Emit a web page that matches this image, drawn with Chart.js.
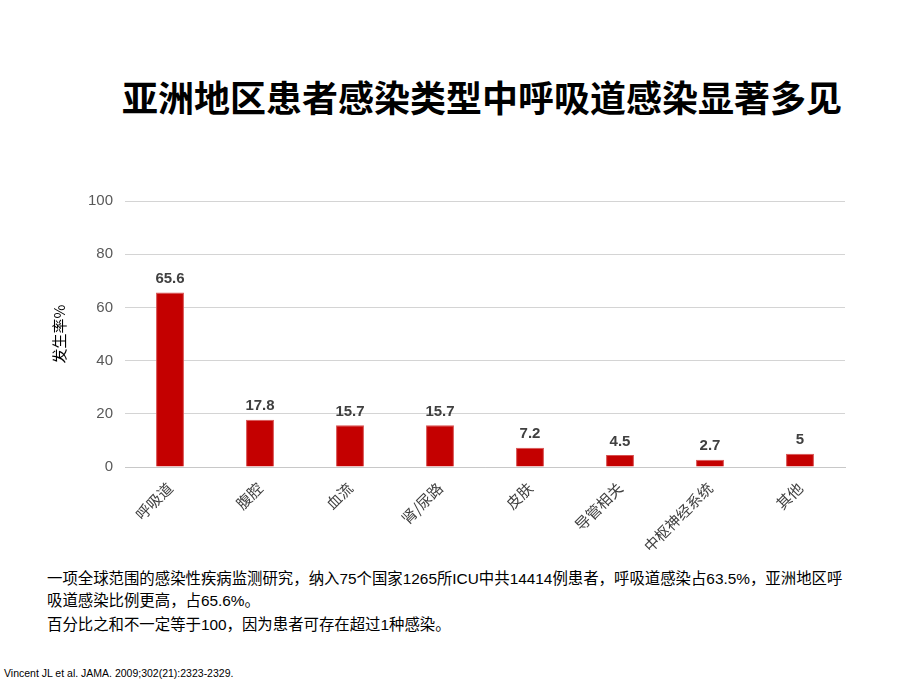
<!DOCTYPE html>
<html>
<head>
<meta charset="utf-8">
<script src="https://cdn.jsdelivr.net/npm/chart.js@4.4.1/dist/chart.umd.min.js"></script>
<style>
    body { margin: 0; width: 920px; height: 690px; background: #fff; position: relative; overflow: hidden;
           font-family: "Liberation Sans", "Noto Sans CJK SC", sans-serif; }
    #title { position: absolute; left: 122px; top: 73px; font-size: 36px; font-weight: bold; letter-spacing: 0px;
             color: #000; font-family: "Noto Sans CJK SC", sans-serif; line-height: 46px; white-space: nowrap; }
    #chart-wrap { position: absolute; left: 40px; top: 180px; width: 815px; height: 380px; }
    #notes { position: absolute; left: 47px; top: 568px; font-size: 15.4px; color: #000; line-height: 22px; white-space: nowrap; }
    #notes p { margin: 0 0 2px 0; }
    #cite { position: absolute; left: 4px; top: 667px; font-size: 10.5px; color: #000; }
</style>
</head>
<body>
<div id="title">亚洲地区患者感染类型中呼吸道感染显著多见</div>
<div id="chart-wrap"><canvas id="infection-chart"></canvas></div>
<div id="notes">
    <p>一项全球范围的感染性疾病监测研究，纳入75个国家1265所ICU中共14414例患者，呼吸道感染占63.5%，亚洲地区呼<br>吸道感染比例更高，占65.6%。</p>
    <p>百分比之和不一定等于100，因为患者可存在超过1种感染。</p>
</div>
<div id="cite">Vincent JL et al. JAMA. 2009;302(21):2323-2329.</div>
<script>
    // Chart data
    const categories = ['呼吸道', '腹腔', '血流', '肾/尿路', '皮肤', '导管相关', '中枢神经系统', '其他'];
    const rates = [65.6, 17.8, 15.7, 15.7, 7.2, 4.5, 2.7, 5];
    const yTicks = [0, 20, 40, 60, 80, 100];

    const fontFamily = '"Liberation Sans", "Noto Sans CJK SC", sans-serif';

    // Draw value labels above each bar
    const valueLabels = {
        id: 'valueLabels',
        afterDatasetsDraw(chart) {
            const ctx = chart.ctx;
            const meta = chart.getDatasetMeta(0);
            ctx.save();
            ctx.font = 'bold 15px ' + fontFamily;
            ctx.fillStyle = '#404040';
            ctx.textAlign = 'center';
            ctx.textBaseline = 'bottom';
            meta.data.forEach(function(bar, i) {
                ctx.fillText(String(rates[i]), bar.x, bar.y - 6);
            });
            ctx.restore();
        }
    };

    new Chart(document.getElementById('infection-chart'), {
        type: 'bar',
        data: {
            labels: categories,
            datasets: [{
                data: rates,
                backgroundColor: '#C40000',
                borderColor: '#D85050',
                borderWidth: 1,
                barPercentage: 0.31,
                categoryPercentage: 1
            }]
        },
        options: {
            responsive: true,
            maintainAspectRatio: false,
            animation: false,
            layout: { padding: { left: 10, right: 10, top: 4 } },
            plugins: {
                legend: { display: false },
                tooltip: { enabled: false }
            },
            scales: {
                x: {
                    grid: { display: false, drawTicks: false },
                    border: { color: '#C8C8C8' },
                    ticks: {
                        color: '#404040',
                        font: { size: 15, family: '"Noto Sans CJK SC", sans-serif' },
                        maxRotation: 45,
                        minRotation: 45,
                        padding: 12
                    },
                    afterFit(scale) { scale.height = 93; }
                },
                y: {
                    min: 0,
                    max: 100,
                    afterBuildTicks(scale) { scale.ticks = yTicks.map(v => ({ value: v })); },
                    grid: { color: '#D4D4D4', drawTicks: false },
                    border: { display: false },
                    ticks: {
                        color: '#595959',
                        font: { size: 15, family: fontFamily },
                        padding: 12
                    },
                    title: {
                        display: true,
                        text: '发生率%',
                        color: '#000',
                        font: { size: 15, family: '"Noto Sans CJK SC", sans-serif' },
                        padding: 0
                    },
                    afterFit(scale) { scale.width = 75; }
                }
            }
        },
        plugins: [valueLabels]
    });
</script>
</body>
</html>
